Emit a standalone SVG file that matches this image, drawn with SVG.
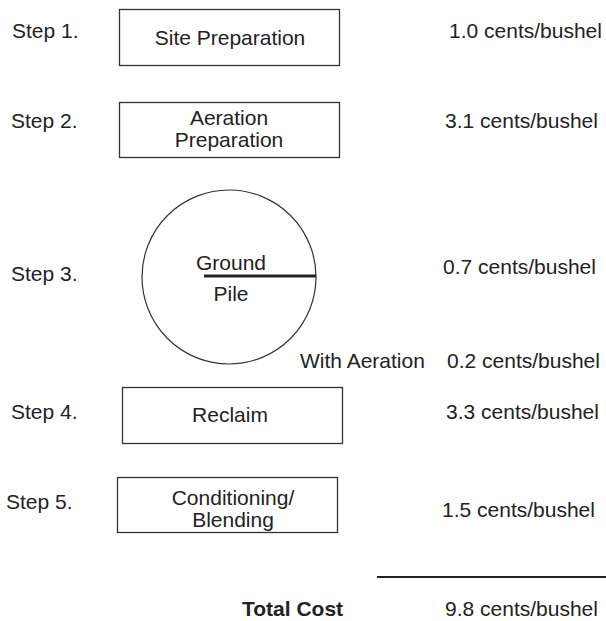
<svg xmlns="http://www.w3.org/2000/svg" width="606" height="621" viewBox="0 0 606 621">
<style>
text{font-family:"Liberation Sans",Arial,sans-serif;font-size:21px;fill:#222}
.c{text-anchor:middle}
.b{font-weight:bold}
.box{fill:#fff;stroke:#333;stroke-width:1.3}
</style>
<rect width="606" height="621" fill="#fff"/>
<g id="labels">
<text x="12" y="38">Step 1.</text>
<text x="11" y="128">Step 2.</text>
<text x="11" y="281">Step 3.</text>
<text x="11" y="419">Step 4.</text>
<text x="6" y="509">Step 5.</text>
</g>
<g id="step1"><rect class="box" x="119.5" y="9.5" width="220" height="56"/><text class="c" x="230" y="45">Site Preparation</text></g>
<g id="step2"><rect class="box" x="119.5" y="102.5" width="220" height="55"/><text class="c" x="229" y="125">Aeration</text><text class="c" x="229" y="147">Preparation</text></g>
<g id="step3"><circle cx="229" cy="277" r="87" fill="#fff" stroke="#333" stroke-width="1.2"/><text class="c" x="231" y="270">Ground</text><text class="c" x="231" y="301">Pile</text></g>
<g id="connectors"><line x1="204" y1="276" x2="316" y2="276" stroke="#222" stroke-width="3"/></g>
<g id="step4"><rect class="box" x="122.5" y="387.5" width="220" height="56"/><text class="c" x="230" y="422">Reclaim</text></g>
<g id="step5"><rect class="box" x="117.5" y="477.5" width="220" height="55"/><text class="c" x="233" y="505">Conditioning/</text><text class="c" x="233" y="527">Blending</text></g>
<g id="costs">
<text x="449" y="38">1.0 cents/bushel</text>
<text x="445" y="128">3.1 cents/bushel</text>
<text x="443" y="274">0.7 cents/bushel</text>
<text x="300" y="368">With Aeration</text>
<text x="447" y="368">0.2 cents/bushel</text>
<text x="446" y="419">3.3 cents/bushel</text>
<text x="442" y="517">1.5 cents/bushel</text>
<line x1="377" y1="577" x2="606" y2="577" stroke="#222" stroke-width="2"/>
<text class="b" x="242" y="616">Total Cost</text>
<text x="445" y="616">9.8 cents/bushel</text>
</g>
</svg>
